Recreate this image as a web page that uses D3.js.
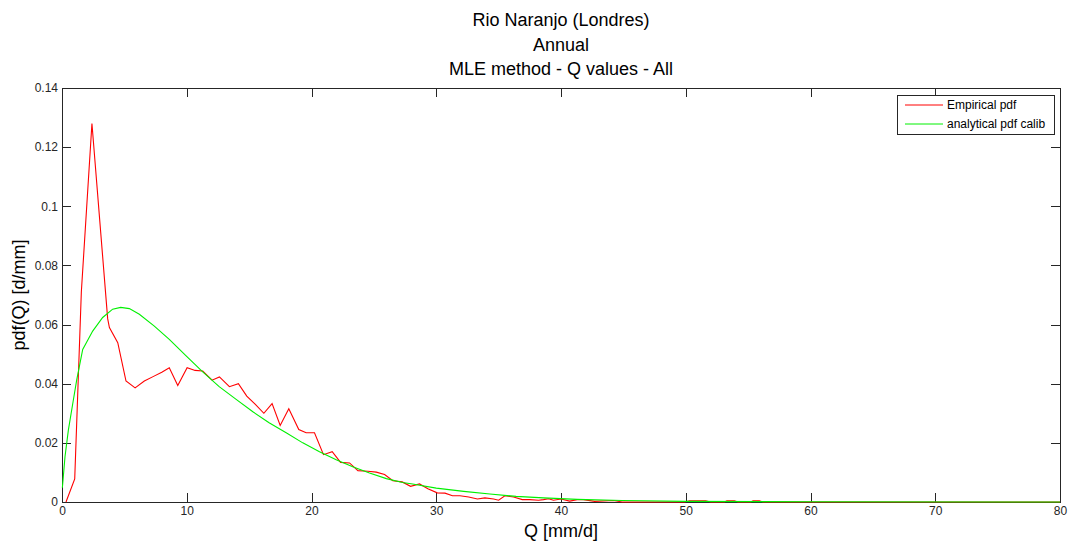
<!DOCTYPE html>
<html>
<head>
<meta charset="utf-8">
<title>Rio Naranjo (Londres)</title>
<script src="https://d3js.org/d3.v7.min.js"></script>
<style>
  body { margin: 0; background: #fff; }
  svg { display: block; font-family: "Liberation Sans", Arial, sans-serif; }
  .axis path, .axis line { stroke: #262626; shape-rendering: crispEdges; }
  .axis text { font-size: 12px; fill: #262626; }
  .curve { fill: none; stroke-width: 1.1px; }
</style>
</head>
<body>
<script>
// ---- data ----
var titleLines = ["Rio Naranjo (Londres)", "Annual", "MLE method - Q values - All"];
var xTicks = [0, 10, 20, 30, 40, 50, 60, 70, 80];
var yTicks = [0, 0.02, 0.04, 0.06, 0.08, 0.1, 0.12, 0.14];

// Empirical pdf
var empQ = [0.32, 1.02, 1.55, 2.40, 3.66, 3.80, 4.47, 5.13, 5.86, 6.6, 7.3, 8.0, 8.6, 9.28,
  10.03, 10.67, 11.28, 12.03, 12.62, 13.42, 14.14, 14.81, 15.5, 16.18, 16.84, 17.49, 18.18,
  18.98, 19.57, 20.24, 20.96, 21.66, 22.33, 23.05, 23.72, 24.52, 25.19, 25.86, 26.52, 27.27,
  27.94, 28.66, 29.33, 30.08, 30.7, 31.3, 31.9, 32.6, 33.3, 33.9, 34.6, 35.0, 35.5, 36.2,
  36.9, 37.5, 38.2, 38.6, 39.0, 39.4, 40.0, 40.7, 41.3, 41.8, 42.7, 44.2, 44.9, 49.9, 50.3,
  51.6, 52.0, 53.1, 53.3, 53.9, 54.2, 55.2, 55.4, 55.9, 56.2, 80];
var empPdf = [0, 0.0078, 0.071, 0.128, 0.062, 0.059, 0.0539, 0.0409, 0.0386, 0.0409, 0.0424,
  0.0439, 0.0454, 0.0394, 0.0454, 0.0445, 0.0443, 0.0412, 0.0423, 0.039, 0.040, 0.0358, 0.033,
  0.030, 0.0333, 0.0259, 0.0315, 0.0245, 0.0234, 0.0234, 0.016, 0.017, 0.0134, 0.0132, 0.0106,
  0.0104, 0.0101, 0.0093, 0.0072, 0.0068, 0.0053, 0.0061, 0.0045, 0.0031, 0.0030, 0.0021,
  0.0021, 0.0017, 0.0010, 0.0014, 0.0010, 0.0006, 0.0021, 0.0017, 0.0008, 0.0008, 0.0006,
  0.0008, 0.0011, 0.0006, 0.0010, 0.0003, 0.0008, 0.0008, 0.0002, 0.0005, 0, 0, 0.0004,
  0.0004, 0, 0, 0.0004, 0.0004, 0, 0, 0.0004, 0.0004, 0, 0];

// analytical pdf calib
var anaQ = [0.03, 0.24, 0.51, 0.91, 1.18, 1.66, 2.46, 3.26, 4.06, 4.7, 5.4, 6.2, 7.4, 8.6,
  9.95, 11.28, 12.6, 13.96, 15.3, 16.6, 17.97, 19.3, 20.64, 21.98, 23.3, 24.65, 26.0, 27.3,
  28.1, 30.0, 32.2, 34.3, 36.4, 38.6, 41.3, 44.9, 50, 60, 80];
var anaPdf = [0.0048, 0.0153, 0.0243, 0.0345, 0.0413, 0.0516, 0.0578, 0.0624, 0.0652, 0.0658,
  0.0654, 0.0635, 0.0595, 0.055, 0.0494, 0.044, 0.039, 0.0347, 0.0305, 0.0268, 0.0234, 0.020,
  0.017, 0.0143, 0.0119, 0.0098, 0.0079, 0.0066, 0.0061, 0.0047, 0.0036, 0.0027, 0.0019,
  0.0014, 0.0009, 0.0005, 0.0002, 0.0001, 0];

var legendNames = ["Empirical pdf", "analytical pdf calib"];
var legendColors = ["#ff0000", "#00f000"];

// ---- layout ----
var W = 1068, H = 545;
var margin = {top: 88, right: 8, bottom: 43, left: 62},
    width = W - margin.left - margin.right,
    height = H - margin.top - margin.bottom;

var svg = d3.select("body").append("svg")
  .attr("width", W)
  .attr("height", H);

svg.append("rect").attr("width", W).attr("height", H).attr("fill", "#fff");

var g = svg.append("g")
  .attr("transform", "translate(" + margin.left + "," + margin.top + ")");

var x = d3.scaleLinear().domain([0, 80]).range([0, width]);
var y = d3.scaleLinear().domain([0, 0.14]).range([height, 0]);

// axes (ticks point inward, all four sides)
g.append("g").attr("class", "axis")
  .attr("transform", "translate(0," + height + ")")
  .call(d3.axisBottom(x).tickValues(xTicks).tickSizeInner(-9).tickSizeOuter(0).tickPadding(4).tickFormat(d3.format("d")));
g.append("g").attr("class", "axis")
  .call(d3.axisTop(x).tickValues(xTicks).tickSizeInner(-9).tickSizeOuter(0).tickFormat(""));
g.append("g").attr("class", "axis")
  .call(d3.axisLeft(y).tickValues(yTicks).tickSizeInner(-9).tickSizeOuter(0).tickPadding(4).tickFormat(function(d) { return String(+d.toFixed(2)); }));
g.append("g").attr("class", "axis")
  .attr("transform", "translate(" + width + ",0)")
  .call(d3.axisRight(y).tickValues(yTicks).tickSizeInner(-9).tickSizeOuter(0).tickFormat(""));

// curves
var line = d3.line()
  .x(function(d) { return x(d[0]); })
  .y(function(d) { return y(d[1]); });

g.append("path").attr("class", "curve")
  .attr("stroke", legendColors[0])
  .attr("d", line(d3.zip(empQ, empPdf)));

g.append("path").attr("class", "curve")
  .attr("stroke", legendColors[1])
  .attr("d", line(d3.zip(anaQ, anaPdf)));

// titles
svg.append("g").selectAll("text")
  .data(titleLines)
  .join("text")
  .attr("x", margin.left + width / 2)
  .attr("y", function(d, i) { return 26 + i * 24.5; })
  .attr("text-anchor", "middle")
  .attr("font-size", "18px")
  .attr("fill", "#000")
  .text(function(d) { return d; });

svg.append("text")
  .attr("x", margin.left + width / 2)
  .attr("y", 537)
  .attr("text-anchor", "middle")
  .attr("font-size", "18px")
  .text("Q [mm/d]");

svg.append("text")
  .attr("transform", "translate(25," + (margin.top + height / 2) + ") rotate(-90)")
  .attr("text-anchor", "middle")
  .attr("font-size", "18px")
  .text("pdf(Q) [d/mm]");

// legend
var lg = svg.append("g").attr("transform", "translate(897,95)");
lg.append("rect")
  .attr("width", 157).attr("height", 39)
  .attr("fill", "#fff").attr("stroke", "#262626")
  .attr("shape-rendering", "crispEdges");
legendNames.forEach(function(name, i) {
  var yy = 10 + i * 19;
  lg.append("line")
    .attr("x1", 8).attr("x2", 46).attr("y1", yy).attr("y2", yy)
    .attr("stroke", legendColors[i]).attr("stroke-width", 1);
  lg.append("text")
    .attr("x", 50).attr("y", yy + 4)
    .attr("font-size", "12px")
    .text(name);
});
</script>
</body>
</html>
